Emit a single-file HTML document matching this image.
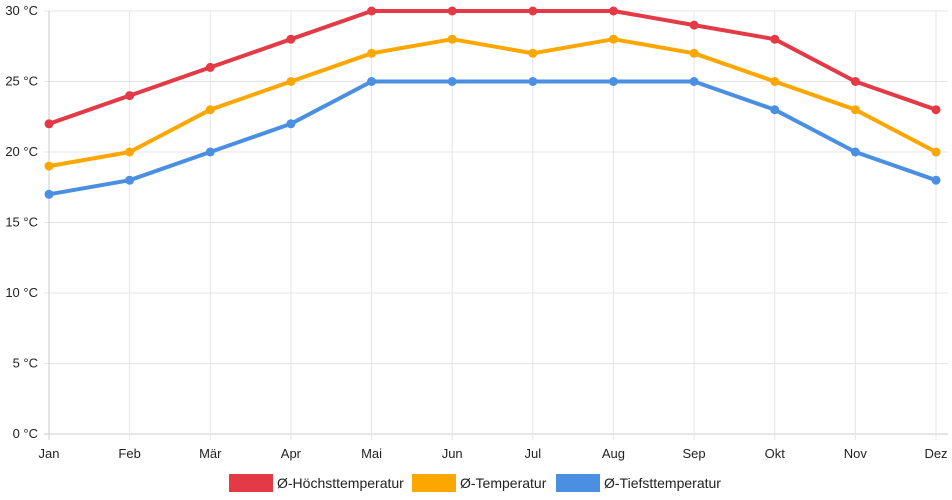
<!DOCTYPE html>
<html><head><meta charset="utf-8"><style>
body{margin:0;background:#fff}
svg{display:block;font-family:"Liberation Sans",sans-serif}
</style></head><body>
<svg id="chart" width="952" height="500">
<g id="grid"></g>
<g id="yaxis"></g>
<g id="xaxis"></g>
<g id="series"></g>
<g id="legend"></g>
</svg>
<script>
const categories=["Jan","Feb","Mär","Apr","Mai","Jun","Jul","Aug","Sep","Okt","Nov","Dez"];
const maxTemps=[22,24,26,28,30,30,30,30,29,28,25,23];
const avgTemps=[19,20,23,25,27,28,27,28,27,25,23,20];
const minTemps=[17,18,20,22,25,25,25,25,25,23,20,18];
const yTicks=[0,5,10,15,20,25,30];
const seriesNames=["Ø-Höchsttemperatur","Ø-Temperatur","Ø-Tiefsttemperatur"];
const seriesColors=["#e33a45","#fca600","#4a8fe2"];

const NS="http://www.w3.org/2000/svg";
const x0=49,x1=936,yTop=11,yBot=434;
const xs=i=>x0+i*(x1-x0)/(categories.length-1);
const ys=v=>yBot-(v/30)*(yBot-yTop);
function mk(tag,attrs,parent){const e=document.createElementNS(NS,tag);for(const k in attrs)e.setAttribute(k,attrs[k]);parent.appendChild(e);return e;}
const grid=document.getElementById('grid'),ya=document.getElementById('yaxis'),xa=document.getElementById('xaxis'),sg=document.getElementById('series'),lg=document.getElementById('legend');
yTicks.forEach(t=>{
  const l=mk('line',{x1:x0-5,x2:x1+12,y1:ys(t),y2:ys(t),stroke:t===0?'#ccc':'#e5e5e5','stroke-width':1},grid);
  
  
  const tx=mk('text',{x:38,y:ys(t)+4,'text-anchor':'end','font-size':13,fill:'#222'},ya);
  tx.textContent=t+' °C';
  
  
});
categories.forEach((c,i)=>{
  const l=mk('line',{x1:xs(i),x2:xs(i),y1:yTop,y2:yBot+6,stroke:i===0?'#ccc':'#e5e5e5','stroke-width':1},grid);
  
  
  const tx=mk('text',{x:xs(i),y:458,'text-anchor':'middle','font-size':13,fill:'#222'},xa);
  tx.textContent=c;
  
  
});
[maxTemps,avgTemps,minTemps].forEach((d,si)=>{
  const g=mk('g',{},sg);
  
  
  const p=mk('polyline',{points:d.map((v,i)=>xs(i)+','+ys(v)).join(' '),fill:'none',stroke:seriesColors[si],'stroke-width':4,'stroke-linejoin':'round'},g);
  
  
  d.forEach((v,i)=>{
    const c=mk('circle',{cx:xs(i),cy:ys(v),r:4.5,fill:seriesColors[si]},g);
    
    
  });
});
const lx=[229,412,556];
seriesNames.forEach((n,i)=>{
  const g=mk('g',{},lg);
  
  
  mk('rect',{x:lx[i],y:474,width:44,height:18,fill:seriesColors[i]},g);
  const t=mk('text',{x:lx[i]+48,y:488,'font-size':14,fill:'#222'},g);
  t.textContent=n;
});
</script>
</body></html>
